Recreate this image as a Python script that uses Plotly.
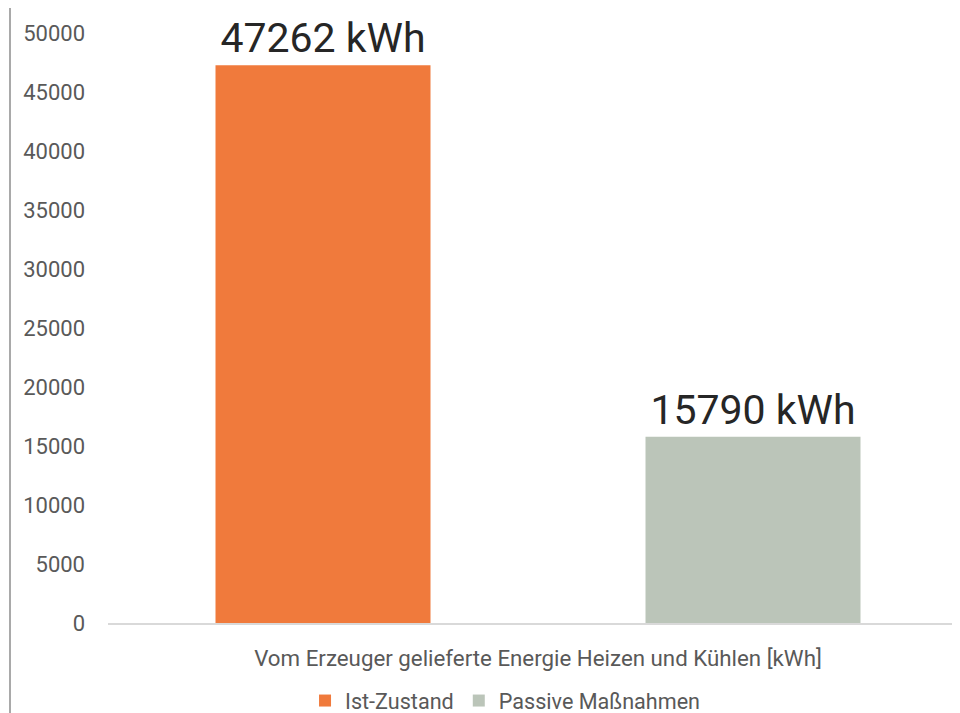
import plotly.graph_objects as go

category = ["Vom Erzeuger gelieferte Energie Heizen und Kühlen [kWh]"]
series_names = ["Ist-Zustand", "Passive Maßnahmen"]
ist_values = [47262]
passive_values = [15790]
ist_labels = ["47262 kWh"]
passive_labels = ["15790 kWh"]
y_ticks = list(range(0, 50001, 5000))

FONT = "Roboto"

fig = go.Figure()
fig.add_trace(go.Bar(
    x=category, y=ist_values, name=series_names[0],
    marker=dict(color="#F07A3C", line=dict(width=0)),
    width=0.25, offset=-0.375,
    text=ist_labels, textposition="outside", cliponaxis=False,
    textfont=dict(family=FONT, size=41, color="#262626"),
))
fig.add_trace(go.Bar(
    x=category, y=passive_values, name=series_names[1],
    marker=dict(color="#BBC5B9", line=dict(width=0)),
    width=0.25, offset=0.125,
    text=passive_labels, textposition="outside", cliponaxis=False,
    textfont=dict(family=FONT, size=41, color="#262626"),
))

fig.update_layout(
    width=960, height=713,
    margin=dict(l=100, r=8, t=25, b=98, autoexpand=False),
    paper_bgcolor="white", plot_bgcolor="white",
    font=dict(family=FONT, size=22, color="#595959"),
    barmode="group",
    showlegend=True,
    legend=dict(orientation="h", x=0.466, xanchor="center",
                yref="container", y=(713 - 693) / 713, yanchor="middle",
                font=dict(family=FONT, size=21.6, color="#595959"),
                itemwidth=30, itemclick=False),
)
fig.update_xaxes(
    range=[-0.5, 0.4907], showline=True, linecolor="#D9D9D9", linewidth=2,
    showgrid=False, ticks="", zeroline=False, automargin=False,
    tickfont=dict(family=FONT, size=22.3, color="#595959"),
    ticklabelstandoff=14,
)
fig.update_yaxes(
    range=[0, 50000], tickvals=y_ticks, ticktext=[str(v) for v in y_ticks],
    showgrid=False, zeroline=False, showline=False, ticks="", automargin=False,
    tickfont=dict(family=FONT, size=22, color="#595959"),
    ticklabelstandoff=22,
)
fig.add_shape(type="line", xref="paper", yref="paper",
              x0=(2 - 100) / 852, x1=(2 - 100) / 852,
              y0=(615 + 3) / 590, y1=(615 - 705) / 590,
              line=dict(color="#8C8C8C", width=1.5))

fig.write_html("out.html")
